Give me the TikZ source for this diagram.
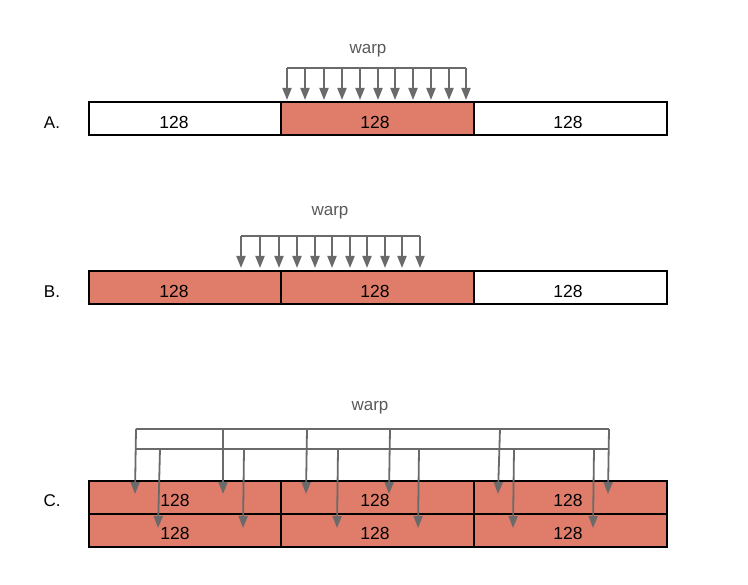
\documentclass[tikz,border=0pt]{standalone}
\usepackage{fontspec}
\setmainfont{Liberation Sans}
\usetikzlibrary{arrows.meta}
\definecolor{cellred}{HTML}{DF7D6A}
\definecolor{arrgray}{HTML}{6A6A6A}
\definecolor{warpgray}{HTML}{595959}
\tikzset{
  cell/.style={draw=black, line width=1.6pt, minimum height=33pt, inner sep=0pt, anchor=north west},
  hot/.style={cell, fill=cellred},
  cold/.style={cell, fill=white},
  num/.style={font=\fontsize{17.5}{20}\selectfont, text=black, inner sep=0pt},
  rowlbl/.style={font=\fontsize{17}{20}\selectfont, text=black, inner sep=0pt},
  warplbl/.style={font=\fontsize{17}{20}\selectfont, text=warpgray, inner sep=0pt},
  bus/.style={draw=arrgray, line width=1.8pt},
  arr/.style={draw=arrgray, line width=1.8pt, -{Triangle[length=12pt,width=9pt]}}
}
\begin{document}
\begin{tikzpicture}[x=1pt,y=-1pt]
\useasboundingbox (0,0) rectangle (748,585);
% ---------- Row A ----------
\node[rowlbl] (la) at (52,123) {A.};
\node[cold, minimum width=192pt] (a1) at (88,101) {};
\node[hot,  minimum width=193pt] (a2) at (280,101) {};
\node[cold, minimum width=193pt] (a3) at (473,101) {};
\node[num] (ta1) at (174,122.5) {128};
\node[num] (ta2) at (375,122.5) {128};
\node[num] (ta3) at (568,122.5) {128};
\node[warplbl] (wa) at (368,51) {warp};
\foreach \x [count=\i] in {287,305,324,342,360,378,395,413,431,449,466}{
  \coordinate (as\i) at (\x,68);
  \coordinate (ae\i) at (\x,100);
}
\draw[bus] (as1) -- (as11);
\foreach \i in {1,...,11}{ \draw[arr] (as\i) -- (ae\i); }
% ---------- Row B ----------
\node[rowlbl] (lb) at (52,292) {B.};
\node[hot,  minimum width=192pt] (b1) at (88,270) {};
\node[hot,  minimum width=193pt] (b2) at (280,270) {};
\node[cold, minimum width=193pt] (b3) at (473,270) {};
\node[num] (tb1) at (174,291.5) {128};
\node[num] (tb2) at (375,291.5) {128};
\node[num] (tb3) at (568,291.5) {128};
\node[warplbl] (wb) at (330,213) {warp};
\foreach \x [count=\i] in {241,260,279,297,315,332,350,367,385,402,420}{
  \coordinate (bs\i) at (\x,236);
  \coordinate (be\i) at (\x,268);
}
\draw[bus] (bs1) -- (bs11);
\foreach \i in {1,...,11}{ \draw[arr] (bs\i) -- (be\i); }
% ---------- Row C ----------
\node[rowlbl] (lc) at (52,501) {C.};
\node[hot, minimum width=192pt] (c1) at (88,480) {};
\node[hot, minimum width=193pt] (c2) at (280,480) {};
\node[hot, minimum width=193pt] (c3) at (473,480) {};
\node[hot, minimum width=192pt] (c4) at (88,513) {};
\node[hot, minimum width=193pt] (c5) at (280,513) {};
\node[hot, minimum width=193pt] (c6) at (473,513) {};
\node[num] (tc1) at (175,500.5) {128};
\node[num] (tc2) at (375,500.5) {128};
\node[num] (tc3) at (568,500.5) {128};
\node[num] (tc4) at (175,533.5) {128};
\node[num] (tc5) at (375,533.5) {128};
\node[num] (tc6) at (568,533.5) {128};
\node[warplbl] (wc) at (370,408) {warp};
\coordinate (uL) at (136,429);
\coordinate (uR) at (609,429);
\coordinate (lL) at (136,449);
\coordinate (lR) at (609,449);
\draw[bus] (uL) -- (uR);
\draw[bus] (lL) -- (lR);
\foreach \x/\y [count=\i] in {136/135,223/223,307/306,390/389,500/498,609/608}{
  \coordinate (us\i) at (\x,429);
  \coordinate (ue\i) at (\y,494);
  \draw[arr] (us\i) -- (ue\i);
}
\foreach \x/\y [count=\i] in {160/158,244/243,338/337,419/418,514/513,594/593}{
  \coordinate (ls\i) at (\x,449);
  \coordinate (le\i) at (\y,528);
  \draw[arr] (ls\i) -- (le\i);
}
\end{tikzpicture}
\end{document}
